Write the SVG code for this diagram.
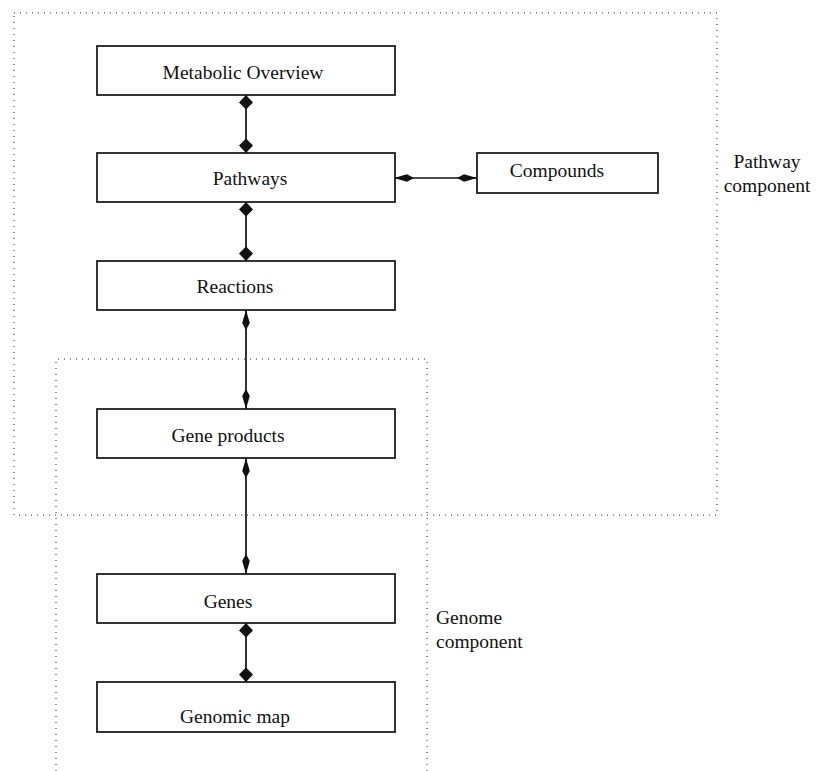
<svg xmlns="http://www.w3.org/2000/svg" width="817" height="771" viewBox="0 0 817 771">
  <style>
    .box { fill: #ffffff; stroke: #111111; stroke-width: 1.7; }
    .lbl { font-family: "Liberation Serif", "Times New Roman", serif; font-size: 19.5px; fill: #111111; }
    .mid { text-anchor: middle; }
    .region { fill: none; stroke: #222222; stroke-width: 1; stroke-dasharray: 1 5; }
    .conn { fill: none; stroke: #111111; stroke-width: 1.7; }
    .wide { marker-start: url(#dWide); marker-end: url(#dWide); }
    .narrow { marker-start: url(#dNarrow); marker-end: url(#dNarrow); }
  </style>
  <defs>
    <marker id="dWide" markerUnits="userSpaceOnUse" viewBox="-16 -8 17 16" markerWidth="17" markerHeight="16" refX="0" refY="0" orient="auto-start-reverse" overflow="visible">
      <path d="M0,0 L-7.5,-7 L-14.5,0 L-7.5,7 Z" fill="#111111"/>
    </marker>
    <marker id="dNarrow" markerUnits="userSpaceOnUse" viewBox="-22 -5 23 10" markerWidth="23" markerHeight="10" refX="0" refY="0" orient="auto-start-reverse" overflow="visible">
      <path d="M0,0 L-13,-3.8 L-20,0 L-13,3.8 Z" fill="#111111"/>
    </marker>
  </defs>

  <g id="regions">
    <g id="pathway-component">
      <rect class="region" x="14" y="13" width="703" height="502"/>
      <text class="lbl mid" x="767" y="168">Pathway</text>
      <text class="lbl mid" x="767" y="192">component</text>
    </g>
    <g id="genome-component">
      <path class="region" d="M56,771 V359 H427 V771"/>
      <text class="lbl" x="436" y="624">Genome</text>
      <text class="lbl" x="436" y="648">component</text>
    </g>
  </g>

  <g id="connectors">
    <line class="conn wide" x1="246" y1="95" x2="246" y2="153"/>
    <line class="conn wide" x1="246" y1="202" x2="246" y2="261"/>
    <line class="conn narrow" x1="246" y1="310" x2="246" y2="409"/>
    <line class="conn narrow" x1="246" y1="458" x2="246" y2="574"/>
    <line class="conn wide" x1="246" y1="623" x2="246" y2="682"/>
    <line class="conn narrow" x1="394" y1="178" x2="477" y2="178"/>
  </g>

  <g id="metabolic-overview">
    <rect class="box" x="97" y="46" width="298" height="49"/>
    <text class="lbl mid" x="243" y="79">Metabolic Overview</text>
  </g>
  <g id="pathways">
    <rect class="box" x="97" y="153" width="298" height="49"/>
    <text class="lbl mid" x="250" y="185">Pathways</text>
  </g>
  <g id="compounds">
    <rect class="box" x="477" y="153" width="181" height="40"/>
    <text class="lbl mid" x="557" y="177">Compounds</text>
  </g>
  <g id="reactions">
    <rect class="box" x="97" y="261" width="298" height="49"/>
    <text class="lbl mid" x="235" y="293">Reactions</text>
  </g>
  <g id="gene-products">
    <rect class="box" x="97" y="409" width="298" height="49"/>
    <text class="lbl mid" x="228" y="442">Gene products</text>
  </g>
  <g id="genes">
    <rect class="box" x="97" y="574" width="298" height="49"/>
    <text class="lbl mid" x="228" y="608">Genes</text>
  </g>
  <g id="genomic-map">
    <rect class="box" x="97" y="682" width="298" height="50"/>
    <text class="lbl mid" x="235" y="723">Genomic map</text>
  </g>
</svg>
